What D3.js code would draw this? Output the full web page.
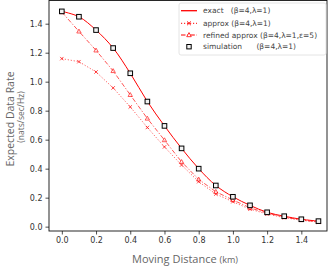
<!DOCTYPE html>
<html>
<head>
<meta charset="utf-8">
<script src="https://cdn.jsdelivr.net/npm/d3@7"></script>
<style>
  body { margin: 0; background: #fff; }
  svg { display: block; }
</style>
</head>
<body>
<div id="chart"></div>
<script>
// values
const distance   = [0.0, 0.1, 0.2, 0.3, 0.4, 0.5, 0.6, 0.7, 0.8, 0.9, 1.0, 1.1, 1.2, 1.3, 1.4, 1.5];
const exactRate  = [1.485, 1.448, 1.356, 1.232, 1.058, 0.863, 0.695, 0.54, 0.40, 0.284, 0.206, 0.147, 0.099, 0.072, 0.051, 0.038];
const approxRate = [1.159, 1.138, 1.067, 0.957, 0.826, 0.684, 0.55, 0.425, 0.31, 0.225, 0.172, 0.12, 0.088, 0.062, 0.044, 0.031];
const refinedRate = [1.48, 1.347, 1.216, 1.074, 0.909, 0.746, 0.597, 0.447, 0.326, 0.241, 0.184, 0.13, 0.093, 0.066, 0.046, 0.033];
const simRate    = [1.485, 1.448, 1.356, 1.232, 1.058, 0.863, 0.695, 0.54, 0.40, 0.284, 0.206, 0.147, 0.099, 0.072, 0.051, 0.038];
const xTicks = [0.0, 0.2, 0.4, 0.6, 0.8, 1.0, 1.2, 1.4];
const yTicks = [0.0, 0.2, 0.4, 0.6, 0.8, 1.0, 1.2, 1.4];
const legendLabels = ["exact   (β=4,λ=1)", "approx (β=4,λ=1)", "refined approx (β=4,λ=1,ε=5)", "simulation      (β=4,λ=1)"];

const W = 332, H = 268;
const L = 49, R = 327, T = 0.5, B = 231;
const RED = "#ff0000";

const svg = d3.select("#chart").append("svg")
    .attr("width", W).attr("height", H);

const x = d3.scaleLinear().domain([-0.075, 1.55]).range([L, R]);
const y = d3.scaleLinear().domain([-0.03, 1.56]).range([B, T]);

// axes
const xAxis = svg.append("g")
    .attr("transform", "translate(0," + B + ")")
    .call(d3.axisBottom(x).tickValues(xTicks).tickFormat(d3.format(".1f")).tickSizeOuter(0).tickSize(3.5).tickPadding(3));
const yAxis = svg.append("g")
    .attr("transform", "translate(" + L + ",0)")
    .call(d3.axisLeft(y).tickValues(yTicks).tickFormat(d3.format(".1f")).tickSizeOuter(0).tickSize(3.5).tickPadding(3));
[xAxis, yAxis].forEach(a => {
  a.select(".domain").remove();
  a.selectAll("text").attr("font-family", "DejaVu Sans").attr("font-size", 8).attr("fill", "#333");
  a.selectAll("line").attr("stroke", "#222").attr("stroke-width", 0.8);
});

// frame
svg.append("rect")
    .attr("x", L).attr("y", T).attr("width", R - L).attr("height", B - T)
    .attr("fill", "none").attr("stroke", "#111").attr("stroke-width", 0.9);

const lineOf = (vals, curve) => d3.line()
    .x((d, i) => x(distance[i]))
    .y(d => y(d))
    .curve(curve || d3.curveLinear)(vals);

// exact curve
svg.append("path").attr("d", lineOf(exactRate, d3.curveCatmullRom))
    .attr("fill", "none").attr("stroke", RED).attr("stroke-width", 1);

// approx: dotted with x markers
svg.append("path").attr("d", lineOf(approxRate))
    .attr("fill", "none").attr("stroke", RED).attr("stroke-width", 0.9)
    .attr("stroke-dasharray", "1.2,1.8").attr("opacity", 0.7);

// refined: dash-dot with triangle markers
svg.append("path").attr("d", lineOf(refinedRate))
    .attr("fill", "none").attr("stroke", RED).attr("stroke-width", 0.9)
    .attr("stroke-dasharray", "4.5,1.8,1.2,1.8").attr("opacity", 0.75);

const crossPath = s => "M" + (-s) + "," + (-s) + "L" + s + "," + s + "M" + (-s) + "," + s + "L" + s + "," + (-s);
const triPath = s => "M0," + (-s) + "L" + (s * 0.95) + "," + (s * 0.7) + "L" + (-s * 0.95) + "," + (s * 0.7) + "Z";

svg.append("g").selectAll("path").data(approxRate).join("path")
    .attr("transform", (d, i) => "translate(" + x(distance[i]) + "," + y(d) + ")")
    .attr("d", crossPath(1.7)).attr("stroke", RED).attr("stroke-width", 0.9).attr("fill", "none").attr("opacity", 0.8);

svg.append("g").selectAll("path").data(refinedRate).join("path")
    .attr("transform", (d, i) => "translate(" + x(distance[i]) + "," + y(d) + ")")
    .attr("d", triPath(2.3)).attr("stroke", RED).attr("stroke-width", 0.8).attr("fill", "#fff").attr("fill-opacity", 0.4).attr("opacity", 0.8);

// simulation squares
svg.append("g").selectAll("rect").data(simRate).join("rect")
    .attr("x", (d, i) => x(distance[i]) - 2.3).attr("y", d => y(d) - 2.3)
    .attr("width", 4.6).attr("height", 4.6)
    .attr("fill", "#f2f2f2").attr("stroke", "#000").attr("stroke-width", 1);

// axis labels
svg.append("text")
    .attr("x", 185).attr("y", 263)
    .attr("text-anchor", "middle").attr("font-family", "Open Sans").attr("fill", "#666")
    .call(t => {
      t.append("tspan").attr("font-size", 11).text("Moving Distance ");
      t.append("tspan").attr("font-size", 9).text("(km)");
    });

const yl = svg.append("g").attr("transform", "translate(0,119) rotate(-90)");
yl.append("text").attr("x", 0).attr("y", 14)
    .attr("text-anchor", "middle").attr("font-family", "Open Sans").attr("font-size", 10.5).attr("fill", "#666")
    .text("Expected Data Rate");
yl.append("text").attr("x", 2).attr("y", 24)
    .attr("text-anchor", "middle").attr("font-family", "Open Sans").attr("font-size", 8.5).attr("fill", "#666")
    .text("(nats/sec/Hz)");

// legend
const lg = svg.append("g").attr("transform", "translate(179,3)");
lg.append("rect").attr("width", 147).attr("height", 52).attr("rx", 2)
    .attr("fill", "#fff").attr("fill-opacity", 0.85).attr("stroke", "#ddd").attr("stroke-width", 0.8);
const rowY = [7.7, 20.3, 32, 43.7];
const hx0 = 2, hx1 = 18, hxm = 10;
legendLabels.forEach((lab, i) => {
  const gy = rowY[i];
  if (i === 0) {
    lg.append("line").attr("x1", hx0).attr("x2", hx1).attr("y1", gy).attr("y2", gy)
        .attr("stroke", RED).attr("stroke-width", 1.3);
  } else if (i === 1) {
    lg.append("line").attr("x1", hx0).attr("x2", hx1).attr("y1", gy).attr("y2", gy)
        .attr("stroke", RED).attr("stroke-width", 1).attr("stroke-dasharray", "1.2,1.8");
    lg.append("path").attr("transform", "translate(" + hxm + "," + gy + ")")
        .attr("d", crossPath(1.8)).attr("stroke", RED).attr("fill", "none");
  } else if (i === 2) {
    lg.append("line").attr("x1", hx0).attr("x2", hx1).attr("y1", gy).attr("y2", gy)
        .attr("stroke", RED).attr("stroke-width", 1).attr("stroke-dasharray", "4.5,1.8,1.2,1.8");
    lg.append("path").attr("transform", "translate(" + hxm + "," + gy + ")")
        .attr("d", triPath(2.4)).attr("stroke", RED).attr("stroke-width", 0.8).attr("fill", "#fff");
  } else {
    lg.append("rect").attr("x", hxm - 2.2).attr("y", gy - 2.2).attr("width", 4.4).attr("height", 4.4)
        .attr("fill", "#f2f2f2").attr("stroke", "#000");
  }
  lg.append("text").attr("x", 24).attr("y", gy + 2.7)
      .attr("font-family", "DejaVu Sans").attr("font-size", 7.5).attr("fill", "#444")
      .attr("xml:space", "preserve").style("white-space", "pre")
      .text(lab);
});
</script>
</body>
</html>
